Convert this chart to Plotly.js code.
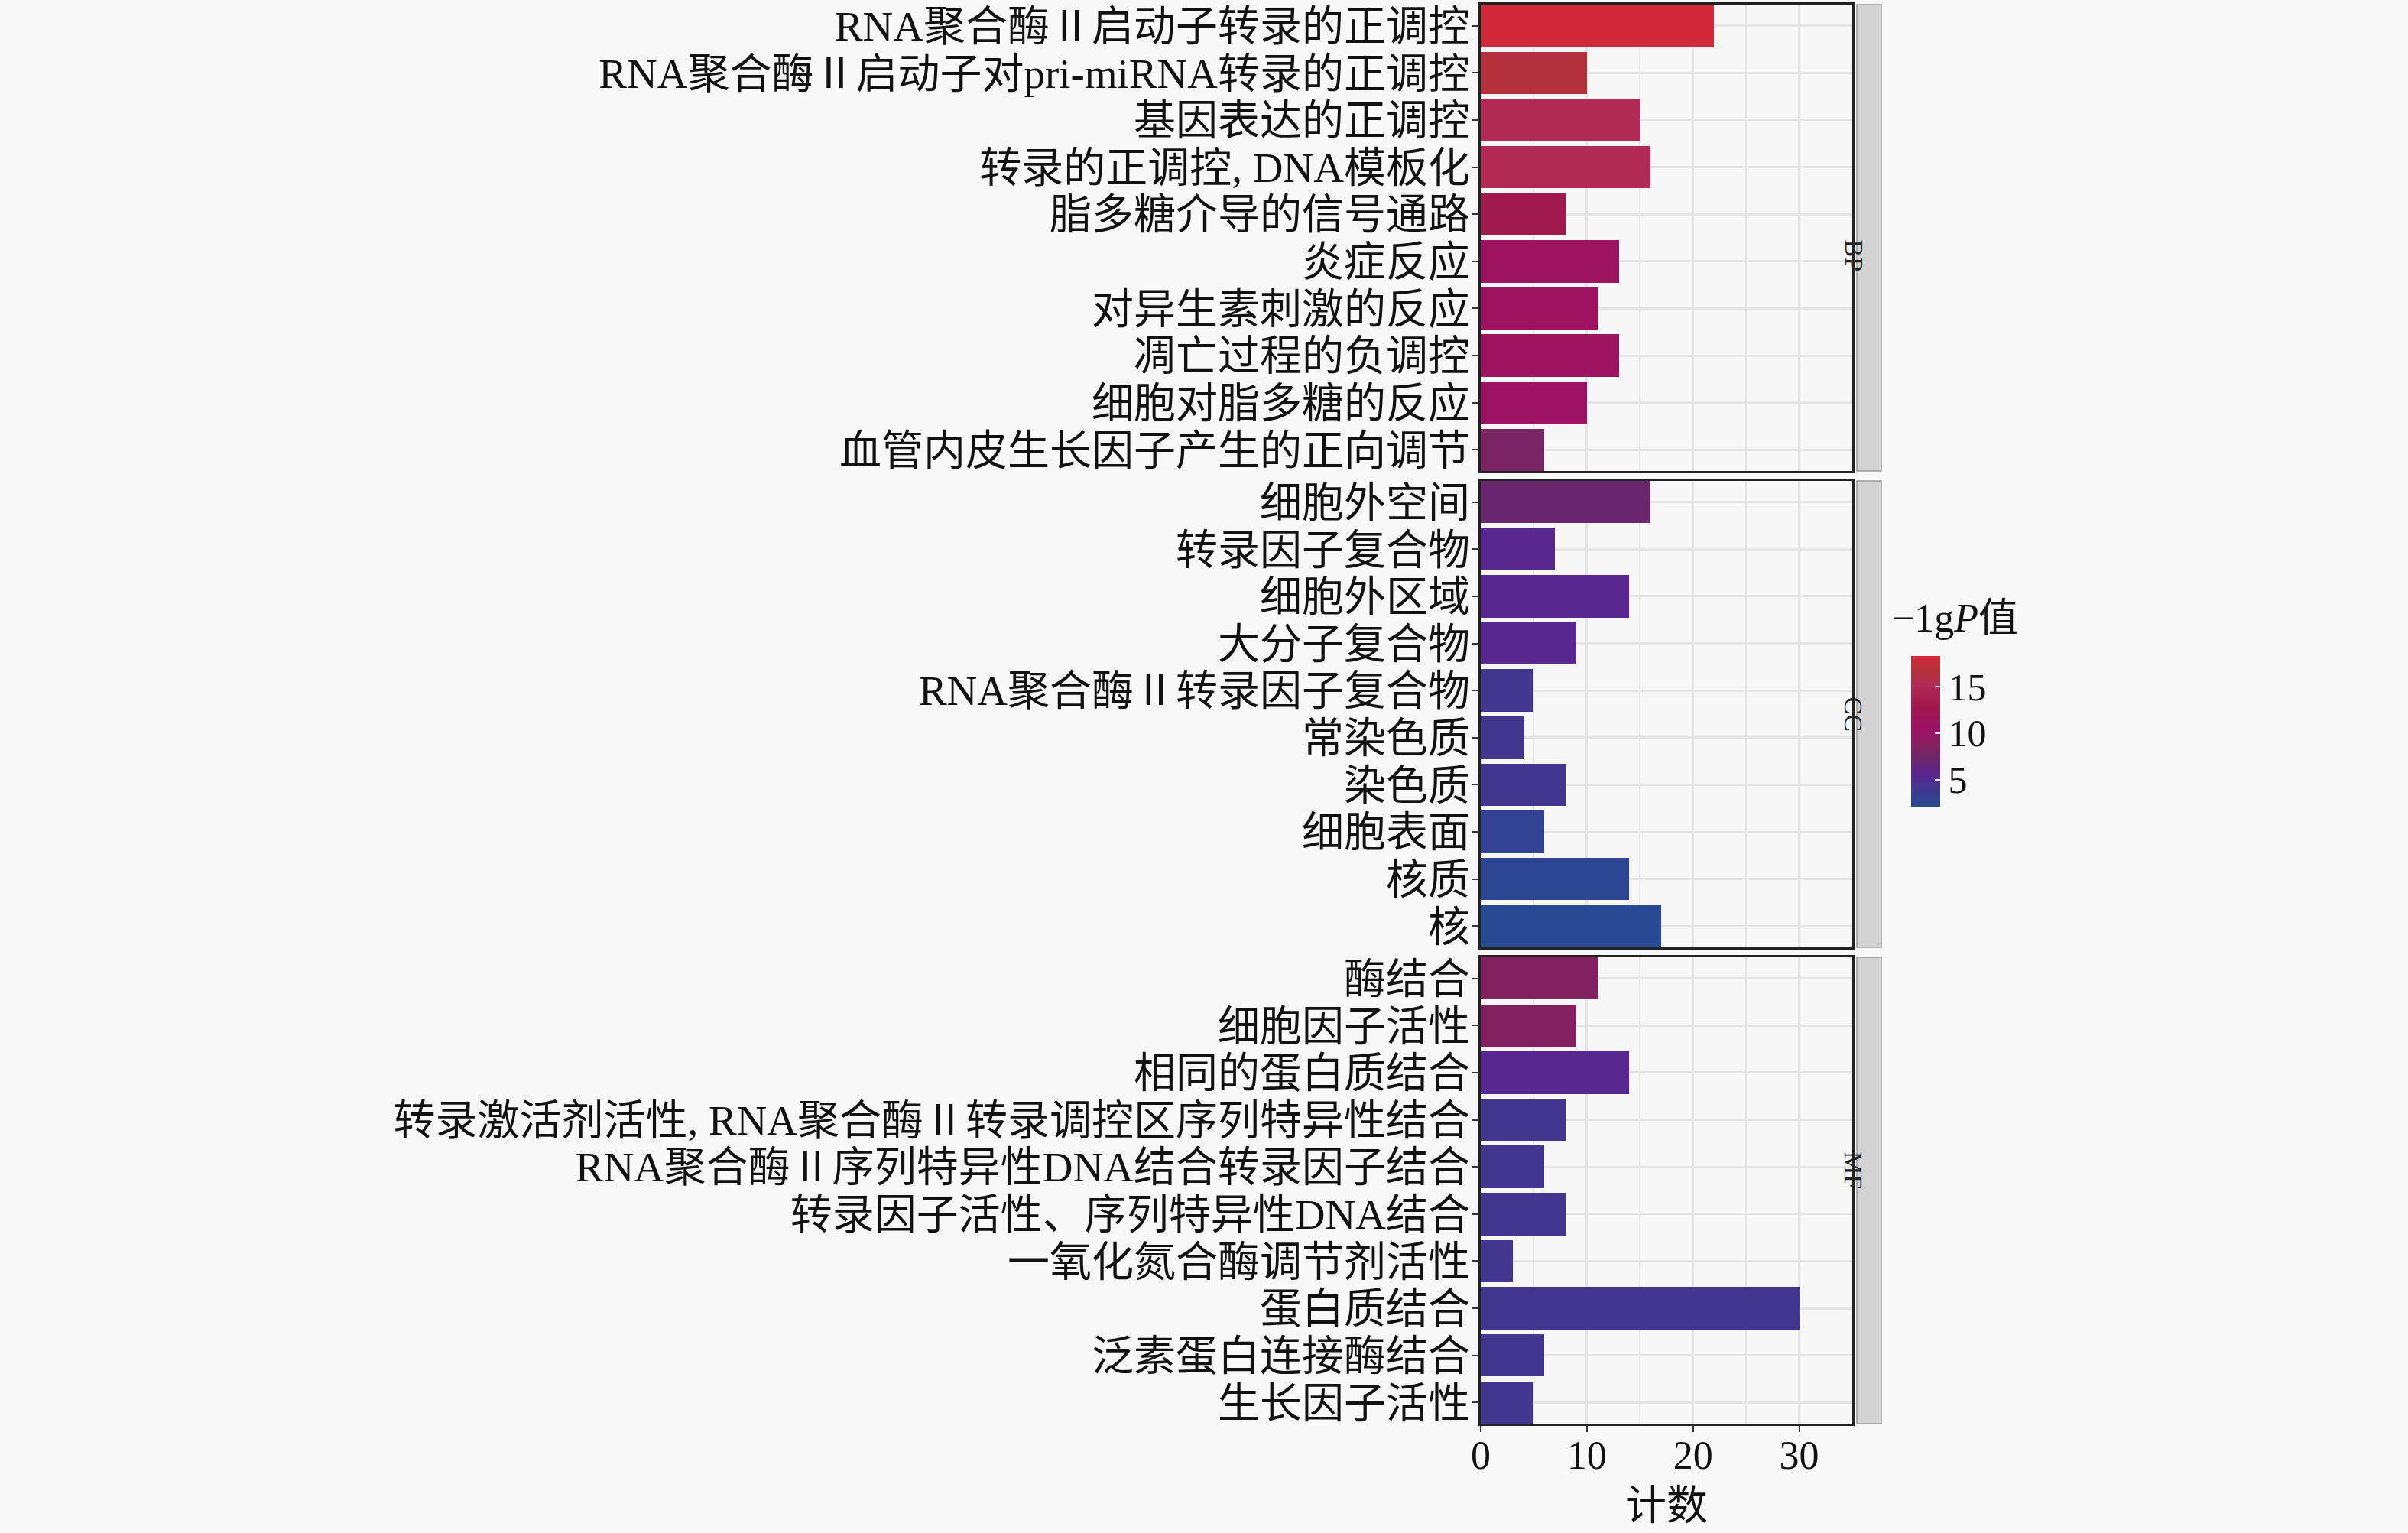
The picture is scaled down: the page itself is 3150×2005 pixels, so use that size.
<!DOCTYPE html>
<html><head><meta charset="utf-8">
<script src="https://cdn.plot.ly/plotly-3.0.1.min.js"></script>
<style>html,body{margin:0;padding:0;background:#F8F8F8}</style>
</head><body><div id="chart" style="width:3150px;height:2005px"></div>
<script>
// ---- data ----
const bpTerms = ["RNA聚合酶Ⅱ启动子转录的正调控","RNA聚合酶Ⅱ启动子对pri-miRNA转录的正调控","基因表达的正调控","转录的正调控, DNA模板化","脂多糖介导的信号通路","炎症反应","对异生素刺激的反应","凋亡过程的负调控","细胞对脂多糖的反应","血管内皮生长因子产生的正向调节"];
const bpCount = [22,10,15,16,8,13,11,13,10,6];
const bpLgP   = [18.3,16.5,15,15,13,11,11,11,10.5,8];

const ccTerms = ["细胞外空间","转录因子复合物","细胞外区域","大分子复合物","RNA聚合酶Ⅱ转录因子复合物","常染色质","染色质","细胞表面","核质","核"];
const ccCount = [16,7,14,9,5,4,8,6,14,17];
const ccLgP   = [7,5.5,5.5,5.5,4,4,4,2.8,2.5,2.1];

const mfTerms = ["酶结合","细胞因子活性","相同的蛋白质结合","转录激活剂活性, RNA聚合酶Ⅱ转录调控区序列特异性结合","RNA聚合酶Ⅱ序列特异性DNA结合转录因子结合","转录因子活性、序列特异性DNA结合","一氧化氮合酶调节剂活性","蛋白质结合","泛素蛋白连接酶结合","生长因子活性"];
const mfCount = [11,9,14,8,6,8,3,30,6,5];
const mfLgP   = [8.5,8.5,5.5,4,4,4,4,4,4,4];

const facetNames = ["BP","CC","MF"];
const xTickVals = [0,10,20,30];
const cbTickVals = [5,10,15];

// ---- layout helpers ----
const W = 3150, H = 2005;
const px = v => v / W, py = v => 1 - v / H;
const panelX = [1937, 2423];
const panels = [[6,616],[629,1239],[1252,1862]];
const FONT = "Liberation Serif, 'Times New Roman', 'Noto Sans CJK SC', serif";
const GRID = "#E4E4E4";

const groups = [[bpTerms,bpCount,bpLgP],[ccTerms,ccCount,ccLgP],[mfTerms,mfCount,mfLgP]];
const data = groups.map((g,i) => ({
  type: "bar", orientation: "h",
  y: g[0], x: g[1], width: 0.9,
  xaxis: "x" + (i ? i+1 : ""), yaxis: "y" + (i ? i+1 : ""),
  marker: {color: g[2], coloraxis: "coloraxis", line: {width: 0}},
  hoverinfo: "x+y"
}));

const layout = {
  width: W, height: H,
  margin: {l:0, r:0, t:0, b:0},
  paper_bgcolor: "#F8F8F8", plot_bgcolor: "#F7F7F7",
  showlegend: false,
  font: {family: FONT, color: "#111"},
  bargap: 0,
  coloraxis: {
    cmin: 2.1, cmax: 18.3,
    colorscale: [[0,"#274A93"],[0.12,"#43368F"],[0.22,"#5C2590"],[0.32,"#6B2868"],[0.40,"#84205F"],[0.52,"#9C1264"],[0.66,"#A0184C"],[0.80,"#B02A55"],[0.90,"#B3323A"],[1,"#D2283A"]],
    colorbar: {
      x: px(2500), xanchor: "left", xref: "paper",
      y: py(858), yanchor: "top", yref: "paper",
      thickness: 38, thicknessmode: "pixels",
      len: 197, lenmode: "pixels",
      xpad: 0, ypad: 0, outlinewidth: 0, borderwidth: 0,
      tickvals: cbTickVals, ticks: "inside", ticklen: 7, tickcolor: "#F0F0F0", tickwidth: 2,
      tickfont: {family: FONT, size: 50, color: "#111"},
      title: {text: ""}
    }
  },
  shapes: [], annotations: []
};

panels.forEach((p,i) => {
  const sx = i ? String(i+1) : "";
  const last = i === panels.length - 1;
  layout["xaxis" + sx] = {
    domain: [px(panelX[0]), px(panelX[1])], anchor: "y" + sx,
    range: [0, 35], tickmode: "array", tickvals: xTickVals, showticklabels: last,
    ticks: last ? "outside" : "", ticklen: 8, tickwidth: 2, tickcolor: "#333",
    ticklabelstandoff: -14,
    tickfont: {family: FONT, size: 52, color: "#111"},
    showgrid: true, gridcolor: GRID, gridwidth: 3,
    minor: {dtick: 5, tick0: 0, showgrid: true, gridcolor: GRID, gridwidth: 2, ticks: ""},
    zeroline: false, showline: true, mirror: true, linecolor: "#222", linewidth: 3,
    fixedrange: true
  };
  layout["yaxis" + sx] = {
    domain: [py(p[1]), py(p[0])], anchor: "x" + sx,
    type: "category", categoryorder: "array", categoryarray: groups[i][0],
    tickmode: "array", tickvals: groups[i][0], ticktext: groups[i][0],
    range: [9.45, -0.45],
    ticks: "outside", ticklen: 8, tickwidth: 2, tickcolor: "#333",
    ticklabelstandoff: -8,
    tickfont: {family: FONT, size: 55, color: "#111"},
    showgrid: true, gridcolor: GRID, gridwidth: 3,
    zeroline: false, showline: true, mirror: true, linecolor: "#222", linewidth: 3,
    fixedrange: true
  };
  layout.shapes.push({type:"rect", xref:"paper", yref:"paper",
    x0: px(2429), x1: px(2461), y0: py(p[1]), y1: py(p[0]),
    fillcolor: "#D3D3D3", line: {color: "#9A9A9A", width: 1.5}, layer: "above"});
  layout.annotations.push({xref:"paper", yref:"paper", x: px(2445), y: py((p[0]+p[1])/2),
    text: facetNames[i], showarrow:false, textangle: 90,
    font: {family: FONT, size: 34, color: "#222"}});
});

layout.annotations.push({xref:"paper", yref:"paper", x: px(2473), y: py(808),
  xanchor:"left", yanchor:"middle", text:"−1g<i>P</i>值", showarrow:false,
  font:{family: FONT, size: 52, color:"#111"}});
layout.annotations.push({xref:"paper", yref:"paper", x: px(2180), y: py(1970),
  xanchor:"center", yanchor:"middle", text:"计数", showarrow:false,
  font:{family: FONT, size: 54, color:"#111"}});

Plotly.newPlot("chart", data, layout, {displayModeBar:false, staticPlot:true});
</script></body></html>
